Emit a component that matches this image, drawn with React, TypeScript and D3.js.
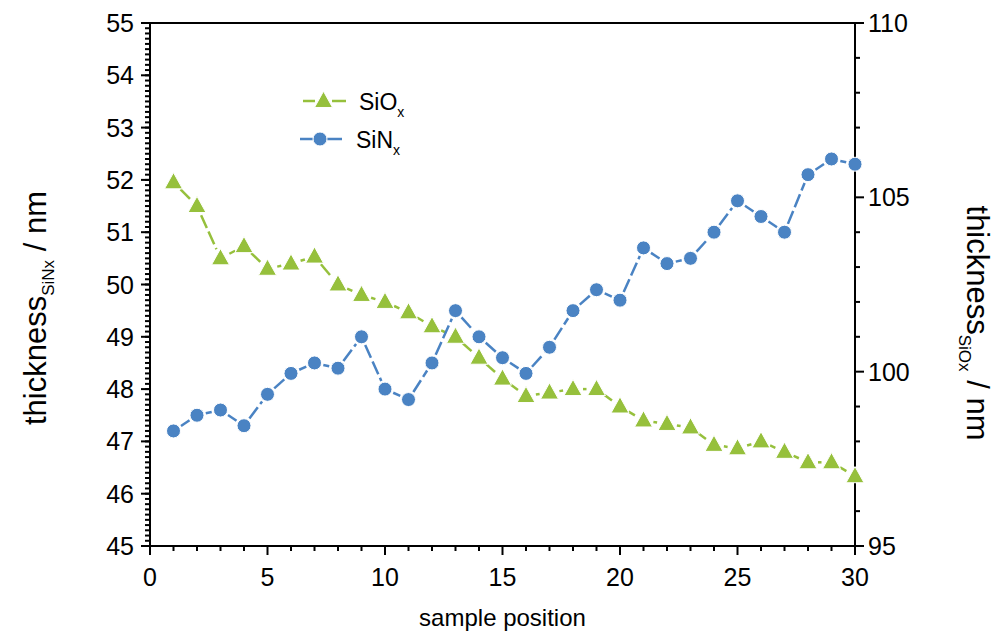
import React from "react";
import * as d3 from "d3";

const positions = [1,2,3,4,5,6,7,8,9,10,11,12,13,14,15,16,17,18,19,20,21,22,23,24,25,26,27,28,29,30];
const sinx = [47.2,47.5,47.6,47.3,47.9,48.3,48.5,48.4,49.0,48.0,47.8,48.5,49.5,49.0,48.6,48.3,48.8,49.5,49.9,49.7,50.7,50.4,50.5,51.0,51.6,51.3,51.0,52.1,52.4,52.3];
const siox = [105.43,104.75,103.25,103.6,102.95,103.1,103.3,102.5,102.2,102.0,101.7,101.3,101.0,100.4,99.8,99.3,99.4,99.5,99.5,99.0,98.6,98.5,98.4,97.9,97.8,98.0,97.7,97.4,97.4,97.0];
const xTicks = [0,5,10,15,20,25,30];
const leftTicks = [45,46,47,48,49,50,51,52,53,54,55];
const rightTicks = [95,100,105,110];

const GREEN = "#96c03c";
const BLUE = "#4a83c3";
const FONT = "Liberation Sans, Arial, sans-serif";

const L = 150, R = 855, T = 23, B = 546;

function segs(pts: [number, number][], gap: number) {
  const out: [number, number, number, number][] = [];
  for (let i = 0; i < pts.length - 1; i++) {
    const [x1, y1] = pts[i];
    const [x2, y2] = pts[i + 1];
    const dx = x2 - x1, dy = y2 - y1;
    const len = Math.hypot(dx, dy);
    if (len <= 2 * gap) continue;
    const ux = dx / len, uy = dy / len;
    out.push([x1 + ux * gap, y1 + uy * gap, x2 - ux * gap, y2 - uy * gap]);
  }
  return out;
}

function tri(cx: number, cy: number, s: number) {
  const h = s * 0.9;
  return `M${cx},${cy - h * 0.6}L${cx + s / 2},${cy + h * 0.4}L${cx - s / 2},${cy + h * 0.4}Z`;
}

export default function App() {
  const x = d3.scaleLinear().domain([0, 30]).range([L, R]);
  const yL = d3.scaleLinear().domain([45, 55]).range([B, T]);
  const yR = d3.scaleLinear().domain([95, 110]).range([B, T]);

  const sinPts: [number, number][] = positions.map((p, i) => [x(p), yL(sinx[i])]);
  const sioPts: [number, number][] = positions.map((p, i) => [x(p), yR(siox[i])]);

  const xMinor = d3.range(0, 31, 1);
  const lMinor = d3.range(45, 55.0001, 0.1);
  const rMinor = d3.range(95, 110.0001, 1);

  return (
    <svg width={1000} height={633} style={{ position: "absolute", left: 0, top: 0, background: "#fff" }} fontFamily={FONT}>
      {/* frame */}
      <line x1={L} y1={T} x2={R} y2={T} stroke="#000" strokeWidth={2} />
      <line x1={L} y1={B} x2={R} y2={B} stroke="#000" strokeWidth={2} />
      <line x1={L} y1={T} x2={L} y2={B} stroke="#000" strokeWidth={2} />
      <line x1={R} y1={T} x2={R} y2={B} stroke="#000" strokeWidth={2} />

      {/* bottom ticks */}
      {xMinor.map((v) => (
        <line key={"xm" + v} x1={x(v)} x2={x(v)} y1={B} y2={B + (v % 5 === 0 ? 9 : 5)} stroke="#000" strokeWidth={2} />
      ))}
      {xTicks.map((v) => (
        <text key={"xt" + v} x={x(v)} y={586} fontSize={25} textAnchor="middle">{v}</text>
      ))}
      <text x={(L + R) / 2} y={626} fontSize={24} textAnchor="middle">sample position</text>

      {/* left ticks */}
      {lMinor.map((v, i) => (
        <line key={"lm" + i} x1={L} x2={L - 5} y1={yL(v)} y2={yL(v)} stroke="#000" strokeWidth={2} />
      ))}
      {leftTicks.map((v) => (
        <line key={"lM" + v} x1={L + (v === 55 ? 8 : 0)} x2={L - 9} y1={yL(v)} y2={yL(v)} stroke="#000" strokeWidth={2} />
      ))}
      {leftTicks.map((v) => (
        <text key={"lt" + v} x={134} y={yL(v) + 9} fontSize={25} textAnchor="end">{v}</text>
      ))}

      {/* right ticks */}
      {rMinor.map((v) => (
        <line key={"rm" + v} x1={R} x2={R + (v % 5 === 0 ? 9 : 5)} y1={yR(v)} y2={yR(v)} stroke="#000" strokeWidth={2} />
      ))}
      {rightTicks.map((v) => (
        <text key={"rt" + v} x={868} y={yR(v) + 9} fontSize={25} textAnchor="start">{v}</text>
      ))}

      {/* axis titles */}
      <text transform="translate(46,308) rotate(-90)" fontSize={31} textAnchor="middle">
        thickness<tspan fontSize={17} dy={8}>SiNx</tspan><tspan dy={-8}> / nm</tspan>
      </text>
      <text transform="translate(967,323) rotate(90)" fontSize={31} textAnchor="middle">
        thickness<tspan fontSize={17} dy={8}>SiOx</tspan><tspan dy={-8}> / nm</tspan>
      </text>

      {/* series lines */}
      {segs(sioPts, 10).map((s, i) => (
        <line key={"gs" + i} x1={s[0]} y1={s[1]} x2={s[2]} y2={s[3]} stroke={GREEN} strokeWidth={2.5} strokeDasharray="14,4" />
      ))}
      {segs(sinPts, 9).map((s, i) => (
        <line key={"bs" + i} x1={s[0]} y1={s[1]} x2={s[2]} y2={s[3]} stroke={BLUE} strokeWidth={2.5} strokeDasharray="14,4" />
      ))}
      {sioPts.map((p, i) => (
        <path key={"gt" + i} d={tri(p[0], p[1], 18)} fill={GREEN} stroke="#fff" strokeWidth={1} />
      ))}
      {sinPts.map((p, i) => (
        <circle key={"bc" + i} cx={p[0]} cy={p[1]} r={7} fill={BLUE} stroke="#fff" strokeWidth={1} />
      ))}

      {/* legend */}
      <line x1={303} x2={315} y1={101} y2={101} stroke={GREEN} strokeWidth={2.5} />
      <line x1={332} x2={346} y1={101} y2={101} stroke={GREEN} strokeWidth={2.5} />
      <path d={tri(323.5, 101, 18)} fill={GREEN} stroke="#fff" strokeWidth={1} />
      <text x={359} y={110} fontSize={23}>SiO<tspan fontSize={14} dy={7}>x</tspan></text>
      <line x1={300} x2={313} y1={139} y2={139} stroke={BLUE} strokeWidth={2.5} />
      <line x1={327} x2={342} y1={139} y2={139} stroke={BLUE} strokeWidth={2.5} />
      <circle cx={320} cy={139} r={7} fill={BLUE} stroke="#fff" strokeWidth={1} />
      <text x={356} y={148} fontSize={23}>SiN<tspan fontSize={14} dy={7}>x</tspan></text>
    </svg>
  );
}
